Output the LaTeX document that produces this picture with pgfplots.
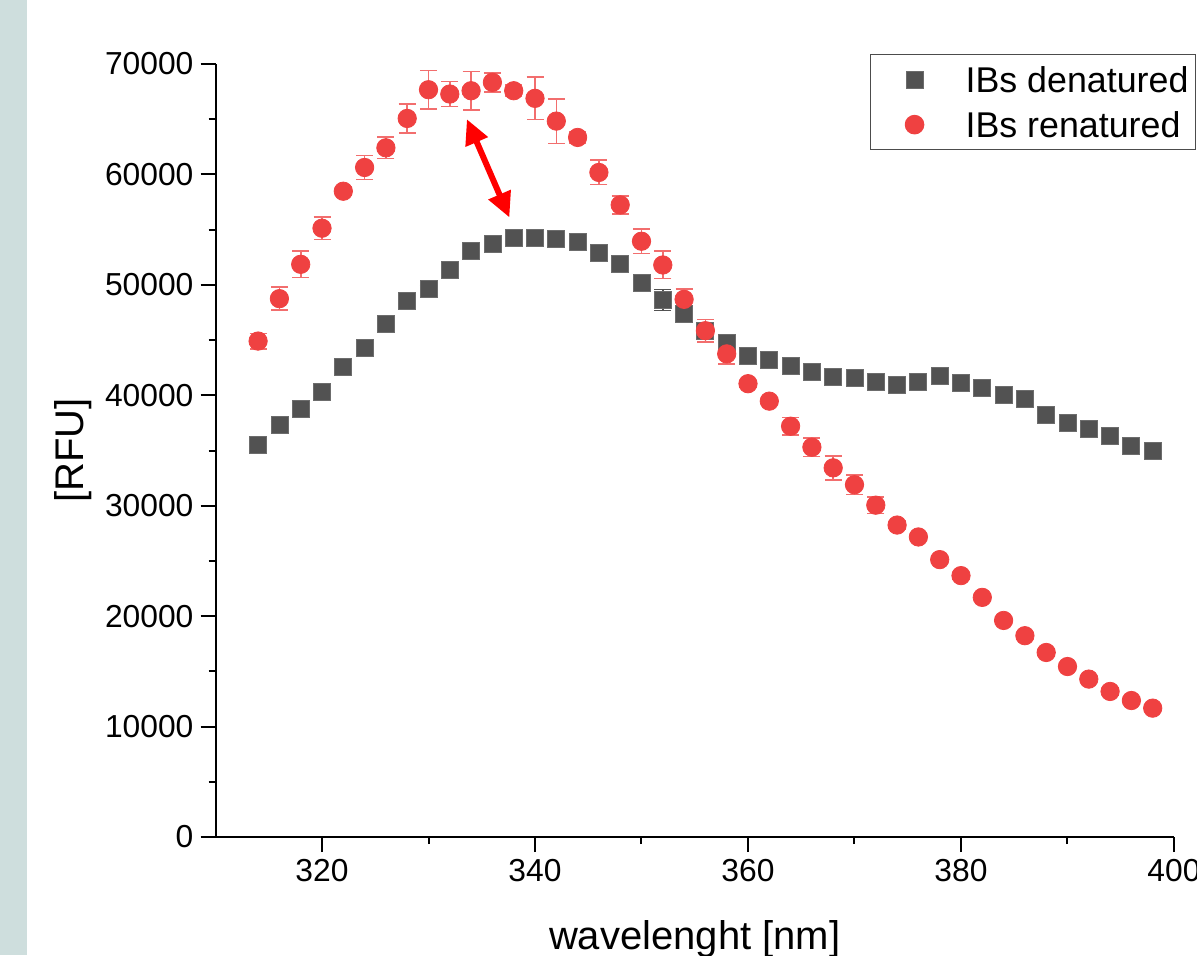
\documentclass[border=0pt]{standalone}
\usepackage{fontspec}
\setmainfont{Liberation Sans}
\usepackage{pgfplots}
\pgfplotsset{compat=1.18}
\usetikzlibrary{arrows.meta}

\definecolor{strip}{RGB}{206,222,221}
\definecolor{dgray}{RGB}{82,82,82}
\definecolor{ored}{RGB}{239,65,65}
\definecolor{ered}{RGB}{242,110,110}

% denatured: x y err
\pgfplotstableread{
x y e
314 35540 300
316 37290 300
318 38780 300
320 40280 300
322 42590 300
324 44310 300
326 46420 300
328 48540 300
330 49660 300
332 51320 300
334 53070 300
336 53740 300
338 54280 300
340 54280 300
342 54130 300
344 53920 300
346 52860 300
348 51860 300
350 50140 300
352 48630 950
354 47330 400
356 45820 300
358 44700 300
360 43550 300
362 43250 300
364 42700 300
366 42130 300
368 41680 300
370 41530 300
372 41230 300
374 40980 300
376 41230 300
378 41740 300
380 41140 300
382 40680 300
384 40080 300
386 39690 300
388 38260 300
390 37510 300
392 36970 300
394 36300 300
396 35450 300
398 35000 300
}\denat

% renatured: x y err
\pgfplotstableread{
x y e
314 44910 700
316 48750 1040
318 51860 1210
320 55130 1040
322 58480 400
324 60630 1090
326 62410 980
328 65070 1315
330 67670 1740
332 67280 1130
334 67580 1740
336 68340 850
338 67580 500
340 66890 1930
342 64830 2025
344 63350 500
346 60180 1100
348 57240 830
350 53950 1100
352 51800 1240
354 48690 940
356 45850 1030
358 43750 900
360 41050 300
362 39470 300
364 37200 800
366 35300 830
368 33430 1090
370 31900 880
372 30050 740
374 28250 400
376 27170 300
378 25120 300
380 23670 300
382 21700 300
384 19610 300
386 18230 300
388 16710 300
390 15440 300
392 14300 300
394 13180 300
396 12360 300
398 11670 300
}\renat

\begin{document}
\begin{tikzpicture}
\useasboundingbox (0,0) rectangle (598.5pt,477.5pt);
\fill[strip] (0,0) rectangle (13.5pt,477.5pt);
\begin{axis}[
  at={(107.75pt,59pt)}, anchor=south west,
  scale only axis, width=479.25pt, height=386.5pt,
  xmin=310, xmax=400, ymin=0, ymax=70000,
  axis lines*=left,
  axis line style={line width=1pt},
  every tick/.style={line width=1pt, black},
  tick align=outside,
  major tick length=7.5pt, minor tick length=3.5pt,
  xtick={320,340,...,400}, minor x tick num=1,
  ytick={0,10000,...,70000}, minor y tick num=1,
  scaled y ticks=false,
  yticklabel style={/pgf/number format/.cd, fixed, 1000 sep={}},
  /pgf/number format/assume math mode=true,
  ticklabel style={font=\fontsize{15.9}{19}\selectfont},
  xlabel={wavelenght [nm]},
  ylabel={[RFU]},
  every axis x label/.style={at={(axis description cs:0.5,-0.1455)}, anchor=base,
    font=\fontsize{20}{24}\selectfont},
  every axis y label/.style={at={(axis description cs:-0.1487,0.5)}, rotate=90, anchor=center,
    font=\fontsize{20}{24}\selectfont},
  clip=false,
  legend style={at={(axis description cs:0.6828,1.0129)}, anchor=north west,
    draw=black!70, line width=0.6pt, fill=white,
    font=\fontsize{17.9}{21}\selectfont,
    inner xsep=2.5pt, inner ysep=1.25pt, row sep=0pt,
    nodes={inner xsep=1pt, inner ysep=4.75pt, text height=13pt, text depth=0pt},
    cells={anchor=west}},
  legend image code/.code={%
    \path[draw=none] (0pt,0pt) -- (44pt,0pt);
    \draw[#1] plot[only marks] coordinates {(19.5pt,0pt)};},
]
\addplot[only marks, mark=square*, mark size=4.25pt, color=dgray,
  mark options={draw=dgray!85!white, line width=0.4pt, fill=dgray},
  error bars/.cd, y dir=both, y explicit,
  error bar style={color=dgray, line width=0.8pt},
  error mark options={rotate=90, color=dgray, mark size=4.25pt, line width=0.8pt}]
  table[x=x, y=y, y error=e] {\denat};
\addlegendentry{IBs denatured}
\addplot[only marks, mark=*, mark size=4.6pt, color=ored,
  mark options={draw=ored, fill=ored},
  error bars/.cd, y dir=both, y explicit,
  error bar style={color=ered, line width=0.8pt},
  error mark options={rotate=90, color=ered, mark size=4.25pt, line width=0.8pt}]
  table[x=x, y=y, y error=e] {\renat};
\addlegendentry{IBs renatured}
\draw[red, line width=3pt, {Triangle[length=12.5pt,width=11.5pt]}-{Triangle[length=12.5pt,width=11.5pt]}]
  (axis cs:333.6,65010) -- (axis cs:337.6,56100);
\end{axis}
\end{tikzpicture}
\end{document}
